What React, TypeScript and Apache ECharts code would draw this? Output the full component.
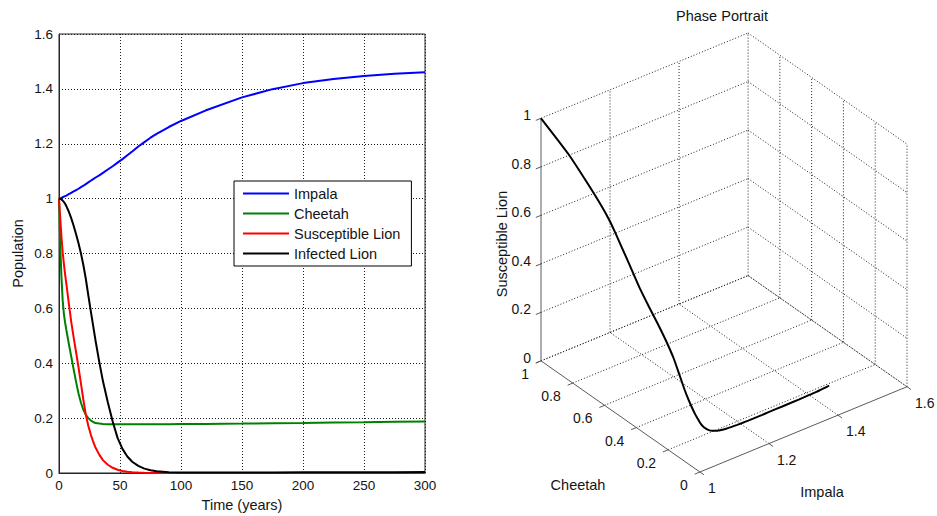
import { useEffect, useRef } from "react";
import * as echarts from "echarts";

const FONT = 'Arial, "Liberation Sans", Helvetica, sans-serif';
const TEXT_COLOR = "#141414";

// ---------- data ----------
const seriesNames = ["Impala", "Cheetah", "Susceptible Lion", "Infected Lion"];
const seriesColors = ["#0000FF", "#008000", "#FF0000", "#000000"];

const timeYears = [
  0, 1, 2, 3, 4, 5, 6, 8, 10, 12,
  14, 16, 18, 20, 22, 24, 26, 28, 30, 33,
  36, 40, 44, 48, 52, 56, 60, 65, 70, 75,
  80, 90, 100, 120, 150, 175, 200, 225, 250, 275,
  300,
];
const impala = [
  1.0, 1.001, 1.003, 1.005, 1.007, 1.009, 1.011, 1.016, 1.021, 1.026,
  1.031, 1.036, 1.042, 1.047, 1.053, 1.059, 1.065, 1.071, 1.077, 1.085,
  1.094, 1.106, 1.118, 1.131, 1.144, 1.158, 1.172, 1.19, 1.206, 1.222,
  1.236, 1.261, 1.283, 1.321, 1.369, 1.399, 1.421, 1.436, 1.447, 1.455,
  1.461,
];
const cheetah = [
  1.0, 0.83, 0.715, 0.63, 0.58, 0.548, 0.522, 0.472, 0.425, 0.378,
  0.332, 0.29, 0.256, 0.23, 0.212, 0.2, 0.192, 0.186, 0.182, 0.18,
  0.179, 0.178, 0.178, 0.178, 0.178, 0.178, 0.178, 0.178, 0.178, 0.178,
  0.178, 0.178, 0.179, 0.179, 0.18, 0.181, 0.182, 0.184, 0.185, 0.187,
  0.188,
];
const susceptibleLion = [
  1.0, 0.93, 0.862, 0.805, 0.762, 0.724, 0.69, 0.62, 0.552, 0.494,
  0.44, 0.385, 0.326, 0.266, 0.212, 0.172, 0.141, 0.114, 0.092, 0.067,
  0.047, 0.03, 0.019, 0.012, 0.0075, 0.0045, 0.0027, 0.0014, 0.0007, 0.0003,
  0.0001, 0, 0, 0, 0, 0, 0, 0, 0, 0,
  0,
];
const infectedLion = [
  1.0, 0.999, 0.997, 0.993, 0.988, 0.981, 0.973, 0.953, 0.929, 0.901,
  0.87, 0.837, 0.8, 0.757, 0.707, 0.648, 0.592, 0.536, 0.481, 0.405,
  0.335, 0.258, 0.188, 0.128, 0.088, 0.06, 0.041, 0.026, 0.016, 0.01,
  0.006, 0.003, 0.002, 0.002, 0.002, 0.002, 0.003, 0.003, 0.003, 0.003,
  0.004,
];
const seriesValues = [impala, cheetah, susceptibleLion, infectedLion];

// axis settings
const timeMin = 0, timeMax = 300, timeInterval = 50;
const popMin = 0, popMax = 1.6, popInterval = 0.2;

// 3D phase portrait axes
const impalaRange = [1, 1.6];
const cheetahRange = [0, 1];
const lionRange = [0, 1];
const impalaTicks = [1, 1.2, 1.4, 1.6];
const cheetahTicks = [0, 0.2, 0.4, 0.6, 0.8, 1];
const lionTicks = [0, 0.2, 0.4, 0.6, 0.8, 1];

// ---------- 3D projection (MATLAB default view az=-37.5, el=30) ----------
const AZ = (37.5 * Math.PI) / 180;
const EL = (30 * Math.PI) / 180;
const SA = Math.sin(AZ), CA = Math.cos(AZ);
const proj = (nx: number, ny: number, nz: number): number[] => [
  nx * CA - ny * SA,
  (nx * SA + ny * CA) * Math.sin(EL) + nz * Math.cos(EL),
];
const norm = (v: number, r: number[]) => (v - r[0]) / (r[1] - r[0]);
const projXMin = -SA, projXMax = CA;
const projYMin = 0, projYMax = (SA + CA) * Math.sin(EL) + Math.cos(EL);

type Seg = { a: number[]; b: number[]; kind: "dot" | "axis" };
function buildFrame(): Seg[] {
  const segs: Seg[] = [];
  const add = (a: number[], b: number[], kind: "dot" | "axis") =>
    segs.push({ a: proj(a[0], a[1], a[2]), b: proj(b[0], b[1], b[2]), kind });
  const nx = impalaTicks.map((v) => norm(v, impalaRange));
  const ny = cheetahTicks.map((v) => norm(v, cheetahRange));
  const nz = lionTicks.map((v) => norm(v, lionRange));
  // back-left wall (cheetah = max)
  nz.forEach((z) => add([0, 1, z], [1, 1, z], "dot"));
  nx.forEach((x) => { if (x > 0) add([x, 1, 0], [x, 1, 1], "dot"); });
  // back-right wall (impala = max)
  nz.forEach((z) => add([1, 1, z], [1, 0, z], "dot"));
  ny.forEach((y) => { if (y < 1) add([1, y, 0], [1, y, 1], "dot"); });
  // floor
  nx.forEach((x) => { if (x > 0) add([x, 0, 0], [x, 1, 0], "dot"); });
  ny.forEach((y) => { if (y > 0) add([0, y, 0], [1, y, 0], "dot"); });
  // solid axes
  add([0, 1, 0], [0, 1, 1], "axis");
  add([0, 0, 0], [0, 1, 0], "axis");
  add([0, 0, 0], [1, 0, 0], "axis");
  // tick marks
  const tl = 0.025;
  nz.forEach((z) => add([0, 1, z], [-tl, 1, z], "axis"));
  ny.forEach((y) => add([0, y, 0], [-tl, y, 0], "axis"));
  nx.forEach((x) => add([x, 0, 0], [x, -tl, 0], "axis"));
  return segs;
}

type Lab = { p: number[]; text: string; align: string; dx: number; dy: number };
function buildLabels(): Lab[] {
  const labs: Lab[] = [];
  lionTicks.forEach((v) =>
    labs.push({ p: proj(0, 1, norm(v, lionRange)), text: String(v), align: "right", dx: -10, dy: -3 })
  );
  cheetahTicks.forEach((v) =>
    labs.push({ p: proj(0, norm(v, cheetahRange), 0), text: String(v), align: "right", dx: -12, dy: 13 })
  );
  impalaTicks.forEach((v) =>
    labs.push({ p: proj(norm(v, impalaRange), 0, 0), text: String(v), align: "left", dx: 8, dy: 16 })
  );
  return labs;
}

export default function App() {
  const ref = useRef<HTMLDivElement>(null);

  useEffect(() => {
    if (!ref.current) return;
    const chart = echarts.init(ref.current, null, { renderer: "svg" });

    const frame = buildFrame();
    const labels = buildLabels();
    const trajectory = timeYears.map((_, i) =>
      proj(norm(impala[i], impalaRange), norm(cheetah[i], cheetahRange), norm(susceptibleLion[i], lionRange))
    );

    const lineSeries = seriesNames.map((name, k) => ({
      type: "line",
      name,
      xAxisIndex: 0,
      yAxisIndex: 0,
      data: timeYears.map((t, i) => [t, seriesValues[k][i]]),
      symbol: "none",
      showSymbol: false,
      smooth: false,
      lineStyle: { color: seriesColors[k], width: 2 },
      itemStyle: { color: seriesColors[k] },
      emphasis: { disabled: true },
      z: 3 + k,
    }));

    const option: any = {
      animation: false,
      backgroundColor: "#ffffff",
      textStyle: { fontFamily: FONT, color: TEXT_COLOR },
      grid: [
        {
          left: 59, top: 34, width: 366, height: 439,
          show: true, borderColor: "#262626", borderWidth: 1, backgroundColor: "#ffffff",
          containLabel: false, outerBoundsMode: "none",
        },
        {
          left: 541, top: 33, width: 366, height: 439,
          show: false, containLabel: false, outerBoundsMode: "none",
        },
      ],
      legend: {
        data: seriesNames,
        orient: "vertical",
        left: 234,
        top: 181,
        itemWidth: 46,
        itemHeight: 16,
        itemGap: 5,
        padding: [5, 11, 5, 8],
        backgroundColor: "#ffffff",
        borderColor: "#000000",
        borderWidth: 1,
        borderRadius: 0,
        selectedMode: false,
        itemStyle: { opacity: 0 },
        lineStyle: { width: 2 },
        textStyle: { fontSize: 14.5, color: TEXT_COLOR, fontFamily: FONT },
      },
      xAxis: [
        {
          type: "value", gridIndex: 0,
          min: timeMin, max: timeMax, interval: timeInterval,
          name: "Time (years)", nameLocation: "middle", nameGap: 24,
          nameTextStyle: { fontSize: 14.5, color: TEXT_COLOR, fontFamily: FONT },
          axisLine: { show: true, lineStyle: { color: "#262626", width: 1 } },
          axisTick: { show: false },
          axisLabel: { fontSize: 13.5, color: TEXT_COLOR, margin: 5, fontFamily: FONT },
          splitLine: { show: true, lineStyle: { color: "#1e1e1e", width: 1, type: [1, 2] } },
        },
        {
          type: "value", gridIndex: 1, min: projXMin, max: projXMax, show: false,
          splitLine: { show: false },
        },
      ],
      yAxis: [
        {
          type: "value", gridIndex: 0,
          min: popMin, max: popMax, interval: popInterval,
          name: "Population", nameLocation: "middle", nameGap: 34,
          nameTextStyle: { fontSize: 14.5, color: TEXT_COLOR, fontFamily: FONT },
          axisLine: { show: true, lineStyle: { color: "#262626", width: 1 } },
          axisTick: { show: false },
          axisLabel: { fontSize: 13.5, color: TEXT_COLOR, margin: 6, fontFamily: FONT },
          splitLine: { show: true, lineStyle: { color: "#1e1e1e", width: 1, type: [1, 2] } },
        },
        {
          type: "value", gridIndex: 1, min: projYMin, max: projYMax, show: false,
          splitLine: { show: false },
        },
      ],
      graphic: [
        {
          type: "text", x: 722, y: 16,
          style: { text: "Phase Portrait", fontSize: 14.5, fontFamily: FONT, fill: TEXT_COLOR, align: "center", verticalAlign: "middle" },
        },
        {
          type: "text", x: 502, y: 244, rotation: Math.PI / 2,
          style: { text: "Susceptible Lion", fontSize: 14.5, fontFamily: FONT, fill: TEXT_COLOR, align: "center", verticalAlign: "middle" },
        },
        {
          type: "text", x: 578, y: 485,
          style: { text: "Cheetah", fontSize: 14.5, fontFamily: FONT, fill: TEXT_COLOR, align: "center", verticalAlign: "middle" },
        },
        {
          type: "text", x: 822, y: 492,
          style: { text: "Impala", fontSize: 14.5, fontFamily: FONT, fill: TEXT_COLOR, align: "center", verticalAlign: "middle" },
        },
      ],
      series: [
        ...lineSeries,
        {
          type: "custom",
          name: "frame3d",
          xAxisIndex: 1,
          yAxisIndex: 1,
          silent: true,
          clip: false,
          z: 1,
          data: frame.map((s) => [s.a[0], s.a[1], s.b[0], s.b[1]]),
          encode: { x: [0, 2], y: [1, 3] },
          renderItem: (params: any, api: any) => {
            const s = frame[params.dataIndex];
            const p1 = api.coord([api.value(0), api.value(1)]);
            const p2 = api.coord([api.value(2), api.value(3)]);
            return {
              type: "line",
              shape: { x1: p1[0], y1: p1[1], x2: p2[0], y2: p2[1] },
              style:
                s.kind === "dot"
                  ? { stroke: "#1e1e1e", lineWidth: 1, lineDash: [1, 2], fill: null }
                  : { stroke: "#5a5a5a", lineWidth: 1, fill: null },
            };
          },
        },
        {
          type: "custom",
          name: "labels3d",
          xAxisIndex: 1,
          yAxisIndex: 1,
          silent: true,
          clip: false,
          z: 2,
          data: labels.map((l) => [l.p[0], l.p[1]]),
          encode: { x: 0, y: 1 },
          renderItem: (params: any, api: any) => {
            const l = labels[params.dataIndex];
            const p = api.coord([api.value(0), api.value(1)]);
            return {
              type: "text",
              x: p[0] + l.dx,
              y: p[1] + l.dy,
              style: {
                text: l.text, fontSize: 14, fontFamily: FONT, fill: TEXT_COLOR,
                align: l.align, verticalAlign: "middle",
              },
            };
          },
        },
        {
          type: "line",
          name: "Phase trajectory",
          xAxisIndex: 1,
          yAxisIndex: 1,
          data: trajectory,
          symbol: "none",
          showSymbol: false,
          smooth: 0.2,
          lineStyle: { color: "#000000", width: 2 },
          itemStyle: { color: "#000000" },
          emphasis: { disabled: true },
          z: 10,
        },
      ],
    };

    chart.setOption(option);
    return () => chart.dispose();
  }, []);

  return (
    <div
      ref={ref}
      style={{ position: "absolute", left: 0, top: 0, width: 937, height: 516, background: "#fff" }}
    />
  );
}
